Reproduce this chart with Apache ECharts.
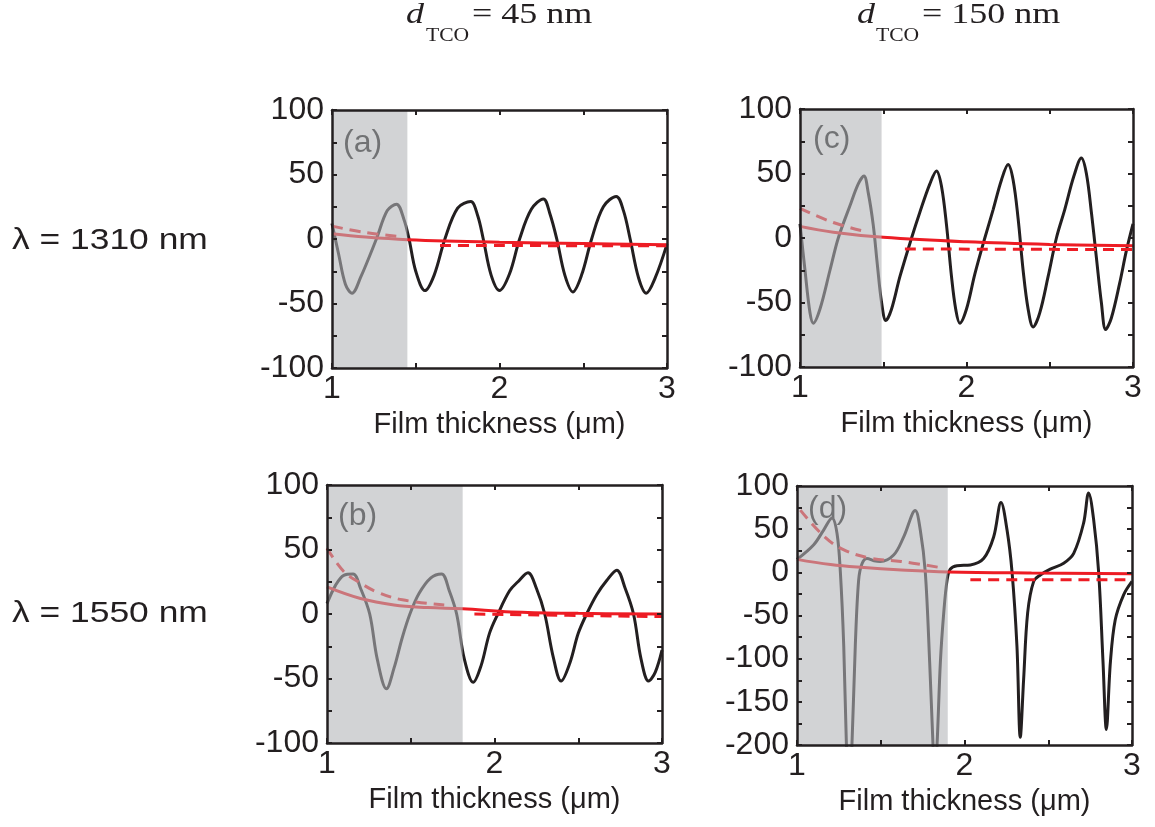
<!DOCTYPE html>
<html>
<head>
<meta charset="utf-8">
<script src="https://cdn.jsdelivr.net/npm/echarts@6/dist/echarts.min.js"></script>
<style>
  html, body { margin: 0; padding: 0; background: #fff; }
  #chart { width: 1155px; height: 827px; }
</style>
</head>
<body>
<div id="chart"></div>
<script>
// panel order: a, b, c, d
const panelNames = ['(a)', '(b)', '(c)', '(d)'];
const shadeEnd = [1.45, 1.81, 1.49, 1.9];
const yMin = [-100, -100, -100, -200];
const yMax = [100, 100, 100, 100];

// (a) lambda 1310, d 45 nm
const blackA = [[1.0, 12], [1.04, -12], [1.08, -35], [1.12, -42], [1.17, -30], [1.265, 0], [1.33, 22], [1.385, 27],
  [1.43, 15], [1.46, 0], [1.5, -25], [1.555, -40], [1.61, -28], [1.674, 0], [1.75, 24], [1.828, 29], [1.87, 18],
  [1.903, 0], [1.95, -28], [2.0, -40], [2.06, -27], [2.12, 0], [2.19, 23], [2.262, 31], [2.3, 20], [2.342, 0],
  [2.39, -28], [2.438, -41], [2.49, -28], [2.55, 0], [2.62, 25], [2.697, 33], [2.74, 22], [2.78, 0], [2.83, -30],
  [2.876, -42], [2.93, -30], [3.0, -4]];
const redA = [[1.0, 4], [1.2, 1.5], [1.45, -0.5], [2.0, -2.5], [2.5, -3.5], [3.0, -4.5]];
const dashA = [[1.0, 10], [1.2, 5], [1.4, 2], [1.5, null], [1.645, -5], [3.0, -5.3]];

// (b) lambda 1550, d 45 nm
const blackB = [[1.0, 8], [1.05, 22], [1.1, 30], [1.156, 31], [1.2, 20], [1.255, 0], [1.3, -35], [1.355, -58],
  [1.4, -42], [1.45, -18], [1.495, 0], [1.55, 16], [1.62, 28], [1.684, 31], [1.73, 18], [1.774, 0], [1.82, -35],
  [1.873, -53], [1.92, -40], [1.97, -15], [2.02, 0], [2.09, 18], [2.14, 25], [2.2, 32], [2.25, 20], [2.3, 0],
  [2.35, -33], [2.398, -52], [2.45, -38], [2.5, -15], [2.55, 0], [2.61, 15], [2.67, 26], [2.73, 34], [2.78, 20],
  [2.83, 0], [2.875, -35], [2.92, -52], [2.96, -45], [3.0, -28]];
const redB = [[1.0, 21], [1.2, 12], [1.4, 7], [1.6, 5], [1.81, 4], [2.1, 1.5], [2.5, 0.5], [3.0, 0]];
const dashB = [[1.0, 51], [1.1, 33], [1.2, 24], [1.3, 17], [1.45, 11], [1.7, 7], [1.8, null], [1.88, 0], [3.0, -2]];

// (c) lambda 1310, d 150 nm
const blackC = [[1.0, 11], [1.03, -25], [1.06, -58], [1.08, -66], [1.12, -55], [1.18, -25], [1.23, 0], [1.3, 25],
  [1.35, 42], [1.384, 48], [1.41, 35], [1.44, 10], [1.464, -20], [1.49, -50], [1.516, -64], [1.55, -55], [1.6, -30],
  [1.67, 0], [1.72, 20], [1.78, 42], [1.82, 52], [1.85, 40], [1.88, 10], [1.91, -30], [1.935, -55], [1.96, -66],
  [2.0, -55], [2.05, -28], [2.11, 0], [2.16, 22], [2.21, 45], [2.25, 57], [2.28, 45], [2.31, 15], [2.34, -25],
  [2.37, -55], [2.4, -69], [2.44, -58], [2.49, -30], [2.54, 0], [2.59, 22], [2.645, 48], [2.69, 62], [2.72, 50],
  [2.75, 20], [2.78, -15], [2.81, -50], [2.836, -71], [2.87, -62], [2.92, -35], [2.96, -10], [3.0, 11]];
const redC = [[1.0, 9], [1.2, 4.5], [1.5, 0.5], [2.0, -3], [2.5, -5], [3.0, -6]];
const dashC = [[1.0, 23], [1.2, 12], [1.4, 4.7], [1.5, null], [1.63, -8.5], [3.0, -9]];

// (d) lambda 1550, d 150 nm
const blackD = [[1.0, 15], [1.1, 32], [1.159, 49], [1.209, 63], [1.239, 45], [1.259, 0], [1.279, -85], [1.295, -200],
  [1.31, -260], [1.328, -200], [1.348, -85], [1.368, -9], [1.388, 10], [1.418, 16], [1.46, 13.5], [1.497, 12.6],
  [1.577, 20], [1.637, 41], [1.706, 71.5], [1.736, 49], [1.766, 0], [1.792, -104], [1.812, -200], [1.822, -240],
  [1.836, -200], [1.856, -104], [1.876, -47], [1.896, -9], [1.915, 3.7], [1.955, 7.7], [2.035, 8.6], [2.114, 16],
  [2.174, 41], [2.218, 81], [2.254, 49], [2.284, 0], [2.313, -85], [2.333, -191], [2.353, -124], [2.377, -47],
  [2.413, -10.5], [2.453, -3], [2.512, 3.7], [2.592, 10.6], [2.652, 22], [2.711, 57], [2.741, 92], [2.771, 61],
  [2.801, 0], [2.827, -104], [2.847, -182], [2.871, -104], [2.9, -55], [2.95, -26], [3.0, -10.5]];
const redD = [[1.0, 15], [1.2, 9], [1.4, 5.5], [1.6, 3], [1.9, 0.5], [2.4, -0.8], [3.0, -1.5]];
const dashD = [[1.02, 72], [1.16, 42], [1.28, 26], [1.44, 16.4], [1.62, 12.6], [1.84, 6], [1.95, null], [2.035, -8.6],
  [3.0, -8.6]];

const blackData = [blackA, blackB, blackC, blackD];
const redData = [redA, redB, redC, redD];
const dashData = [dashA, dashB, dashC, dashD];

const rowLabels = ['\u03bb = 1310 nm', '\u03bb = 1550 nm'];
const colValues = ['= 45 nm', '= 150 nm'];

const ink = '#231f20';
const red = '#ed1c24';
const sans = '"Liberation Sans", Arial, sans-serif';
const serif = '"Liberation Serif", "Times New Roman", serif';

const grids = [
  { left: 332, top: 110, width: 335, height: 258 },
  { left: 327, top: 485, width: 335, height: 258 },
  { left: 800, top: 109, width: 333, height: 258 },
  { left: 797, top: 486, width: 335, height: 259 }
];

const xAxes = [], yAxes = [], series = [];
const tickStyle = { inside: true, length: 5, lineStyle: { color: ink, width: 2 } };
const lineStyle = { show: true, onZero: false, lineStyle: { color: ink, width: 2.5 } };

grids.forEach(function (g, i) {
  ['bottom', 'top'].forEach(function (pos) {
    xAxes.push({
      type: 'value', gridIndex: i, position: pos, min: 1, max: 3, interval: 0.5, z: 5,
      axisLine: lineStyle, axisTick: tickStyle, splitLine: { show: false },
      axisLabel: {
        show: pos === 'bottom', fontSize: 32, color: ink, fontFamily: sans, margin: 5,
        formatter: function (v) { return v % 1 === 0 ? String(v) : ''; }
      },
      name: pos === 'bottom' ? 'Film thickness (\u03bcm)' : '',
      nameLocation: 'middle', nameGap: 42,
      nameTextStyle: { fontSize: 29, color: ink, fontFamily: sans }
    });
  });
  ['left', 'right'].forEach(function (pos) {
    yAxes.push({
      type: 'value', gridIndex: i, position: pos, min: yMin[i], max: yMax[i], interval: 25, z: 5,
      axisLine: lineStyle, axisTick: tickStyle, splitLine: { show: false },
      axisLabel: {
        show: pos === 'left', fontSize: 32, color: ink, fontFamily: sans, margin: 8,
        formatter: function (v) { return v % 50 === 0 ? String(v) : ''; }
      }
    });
  });
  series.push({
    type: 'line', xAxisIndex: 2 * i, yAxisIndex: 2 * i, data: blackData[i], showSymbol: false,
    smooth: 0.35, lineStyle: { color: ink, width: 3 }, z: 2
  });
  series.push({
    type: 'line', xAxisIndex: 2 * i, yAxisIndex: 2 * i, data: redData[i], showSymbol: false,
    smooth: 0.4, lineStyle: { color: red, width: 3 }, z: 2
  });
  series.push({
    type: 'line', xAxisIndex: 2 * i, yAxisIndex: 2 * i, data: dashData[i], showSymbol: false,
    smooth: 0.4, connectNulls: false, lineStyle: { color: red, width: 3, type: [11, 7] }, z: 2
  });
  // grey shading over the first part of the panel
  series.push({
    type: 'line', xAxisIndex: 2 * i, yAxisIndex: 2 * i, data: [], z: 4,
    markArea: {
      silent: true, z: 4,
      itemStyle: { color: 'rgba(179,181,183,0.59)' },
      data: [[{ xAxis: 1 }, { xAxis: shadeEnd[i] }]]
    }
  });
});

const labelPos = [[343, 144], [338, 517], [813, 140], [808, 510]];
const graphics = [];
panelNames.forEach(function (t, i) {
  graphics.push({
    type: 'text', left: labelPos[i][0], top: labelPos[i][1] - 17, z: 1,
    style: { text: t, fontSize: 32, fill: '#151515', fontFamily: sans }
  });
});
rowLabels.forEach(function (t, i) {
  graphics.push({
    type: 'text', x: 12, y: [241, 614][i], scaleX: 1.18,
    style: { text: t, fontSize: 30, fill: ink, fontFamily: sans, verticalAlign: 'middle' }
  });
});
// column headers: d_TCO = ...
[[406, 426, 472], [857, 876, 922]].forEach(function (p, j) {
  graphics.push({
    type: 'text', x: p[0], y: 15, scaleX: 1.2,
    style: { text: 'd', fontSize: 30, fontStyle: 'italic', fill: ink, fontFamily: serif, verticalAlign: 'middle' }
  });
  graphics.push({
    type: 'text', x: p[1], y: 36, scaleX: 1.2,
    style: { text: 'TCO', fontSize: 18, fill: ink, fontFamily: serif, verticalAlign: 'middle' }
  });
  graphics.push({
    type: 'text', x: p[2], y: 15, scaleX: 1.2,
    style: { text: colValues[j], fontSize: 30, fill: ink, fontFamily: serif, verticalAlign: 'middle' }
  });
});

const chart = echarts.init(document.getElementById('chart'), null, { renderer: 'canvas' });
chart.setOption({
  animation: false,
  backgroundColor: '#fff',
  grid: grids,
  xAxis: xAxes,
  yAxis: yAxes,
  series: series,
  graphic: graphics
});
</script>
</body>
</html>
